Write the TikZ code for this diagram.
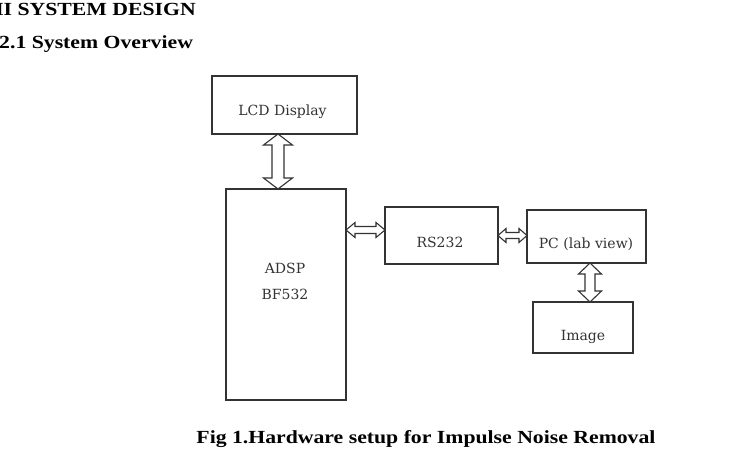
\documentclass[tikz,border=0pt]{standalone}
\usepackage{fontspec}
\usepackage{graphicx}
\setmainfont{Liberation Serif}
\newfontfamily\lblfont{DejaVu Serif}
\usetikzlibrary{calc}
\newcommand{\wide}[1]{\scalebox{1.175}[1]{#1}}
\newcommand{\dblarrow}[5]{%
  \draw[conn] let \p1=(#1), \p2=(#2),
    \n1={veclen(\x2-\x1,\y2-\y1)}, \n2={atan2(\y2-\y1,\x2-\x1)} in
    [shift={(\p1)}, rotate=\n2]
    (0,0) -- (#5,#3) -- (#5,#4) -- (\n1-#5,#4) -- (\n1-#5,#3) -- (\n1,0)
    -- (\n1-#5,-#3) -- (\n1-#5,-#4) -- (#5,-#4) -- (#5,-#3) -- cycle;}
\begin{document}
\begin{tikzpicture}[x=1pt,y=1pt,
  blk/.style={draw=black!80, line width=1.3pt, inner sep=0pt, outer sep=0pt, fill=white},
  conn/.style={draw=black!80, line width=1.1pt, line join=miter, fill=white},
  lbl/.style={font=\lblfont\fontsize{14}{16}\selectfont, text=black!80, inner sep=0pt},
  head/.style={font=\bfseries\fontsize{18.5}{20}\selectfont, inner sep=0pt}]
\useasboundingbox (0,0) rectangle (733,-472);
% headings
\node[head, anchor=base east] (h1) at (196,-15) {\wide{II SYSTEM DESIGN}};
\node[head, anchor=base west] (h2) at (-1,-48) {\wide{2.1 System Overview}};
% boxes
\node[blk, minimum width=145, minimum height=58] (lcd) at (284.5,-105) {};
\node[blk, minimum width=120, minimum height=211] (adsp) at (286,-294.5) {};
\node[blk, minimum width=113, minimum height=57] (rs) at (441.5,-235.5) {};
\node[blk, minimum width=119, minimum height=53] (pc) at (586.5,-236.5) {};
\node[blk, minimum width=100, minimum height=51] (img) at (583,-327.5) {};
% labels
\node[lbl] (tlcd) at (282.5,-112) {LCD Display};
\node[lbl] (tadsp) at (285,-268) {ADSP};
\node[lbl] (tbf) at (285,-294) {BF532};
\node[lbl] (trs) at (440,-242) {RS232};
\node[lbl] (tpc) at (586,-244) {PC (lab view)};
\node[lbl] (timg) at (583,-337) {Image};
% connectors
\coordinate (c1) at ($(lcd.south)+(-6.5,0)$);
\dblarrow{c1}{c1 |- adsp.north}{14.5}{6}{11}
\coordinate (c2) at ($(rs.west)+(0,5.5)$);
\dblarrow{adsp.east |- c2}{c2}{7.5}{3.5}{9}
\dblarrow{rs.east}{pc.west |- rs.east}{7}{3}{8}
\coordinate (c4) at ($(pc.south)+(3.5,0)$);
\dblarrow{c4}{c4 |- img.north}{11.5}{5}{11}
% caption
\node[head, anchor=base] (cap) at (426,-443) {\wide{Fig 1.Hardware setup for Impulse Noise Removal}};
\end{tikzpicture}
\end{document}
